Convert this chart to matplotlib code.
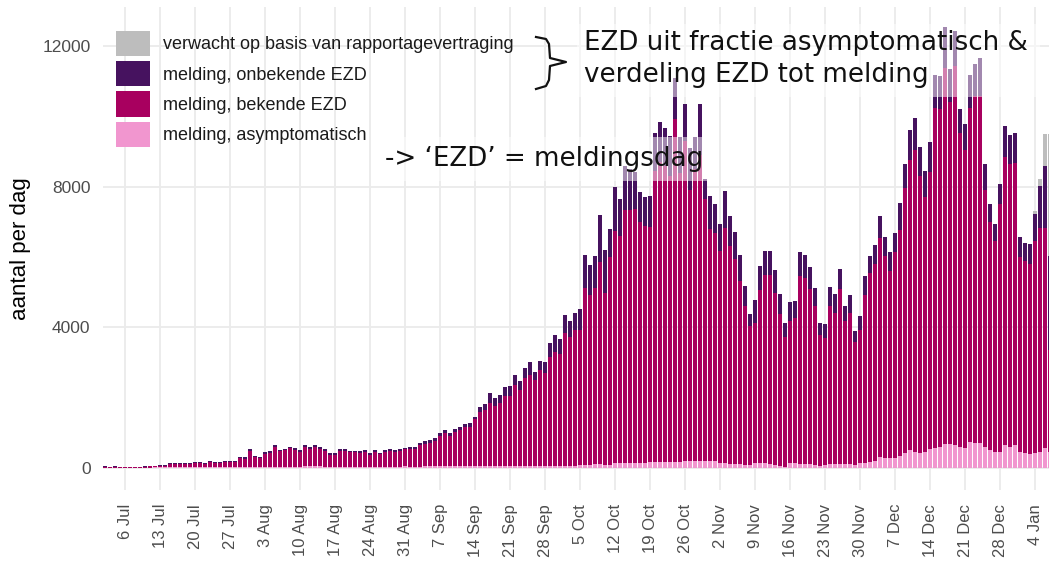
import numpy as np
import pandas as pd
import matplotlib
matplotlib.use("Agg")
import matplotlib.pyplot as plt
import matplotlib.dates as mdates
from matplotlib.patches import Patch, Rectangle
from matplotlib.lines import Line2D

# dagen 2 jul 2020 .. 7 jan 2021
dagen = pd.date_range("2020-07-02", "2021-01-07", freq="D")

# hoogte tot bovenkant "melding, onbekende EZD" (= totaal gemeld)
top_onbekend = [
    50, 40, 50, 20, 20, 20, 30, 30, 50, 60, 70, 80, 80, 140, 130, 150, 130, 150, 160, 160,
    130, 200, 180, 180, 190, 190, 210, 320, 300, 540,
    340, 310, 450, 470, 650, 520, 550, 610, 560, 510, 660, 590, 650, 590, 530, 420, 420, 540,
    540, 490, 490, 470, 500, 420, 500, 440, 500, 530, 510, 530, 580,
    590, 590, 700, 760, 790, 840, 1000, 1080, 1000, 1100, 1180, 1250, 1270, 1460, 1730, 1810,
    2120, 2000, 2080, 2300, 2320, 2650, 2460, 2830, 3010, 2720, 3050, 3020, 3550, 3790,
    3680, 4350, 4190, 4410, 4520, 6050, 5770, 6030, 7200, 6200, 6800, 7990, 7640, 8580, 8490,
    8420, 7850, 7710, 7730, 9530, 9840, 9680, 9430, 11100, 9400, 10350, 9110, 9400, 10360, 8210, 7730,
    7500, 6930, 7880, 7160, 6710, 6070, 5190, 4390, 4790, 5740, 6170, 6170, 5620, 4960, 4120,
    4710, 4740, 6150, 6070, 5720, 5120, 4120, 4090, 5140, 4950, 5660, 4620, 4930, 3910, 4310,
    5450, 6040, 6330, 7160, 6570, 6140, 6690, 7540, 8660, 9600, 9950, 9140, 8450, 9270, 11170,
    11150, 12530, 11340, 12430, 10220, 9780, 11170, 11490, 11650, 8650, 7500, 6940, 8090, 9730, 9460, 9540,
    6570, 6400, 6360, 7230, 8020, 8590, 6020,
]

# hoogte tot bovenkant "melding, bekende EZD"
top_bekend = [
    40, 30, 40, 15, 15, 15, 25, 25, 40, 50, 60, 65, 65, 120, 110, 125, 110, 125, 135, 135,
    110, 170, 155, 155, 160, 165, 180, 280, 265, 490,
    300, 275, 405, 425, 590, 475, 500, 560, 510, 465, 600, 540, 600, 540, 485, 380, 380, 490,
    495, 445, 450, 430, 455, 380, 455, 400, 455, 485, 465, 485, 530,
    535, 535, 640, 695, 720, 770, 920, 990, 920, 1010, 1090, 1160, 1180, 1380, 1580, 1650,
    1845, 1770, 1860, 2035, 2055, 2365, 2205, 2555, 2650, 2490, 2775, 2705, 3170, 3290,
    3230, 3840, 3720, 3930, 3930, 5130, 4920, 5120, 5870, 4990, 5990, 6735, 6590, 7340, 7350,
    7370, 6990, 6880, 6860, 8450, 8700, 8600, 8300, 9920, 8400, 9300, 7920, 8500, 8900, 7640, 6800,
    6690, 6170, 6830, 6310, 5930, 5330, 4600, 4030, 4120, 5070, 5500, 5500, 4980, 4390, 3720,
    4170, 4270, 5450, 5400, 5090, 4620, 3790, 3700, 4620, 4410, 5090, 4170, 4410, 3580, 3930,
    4930, 5550, 5810, 6550, 6040, 5600, 6140, 6780, 7970, 8760, 9040, 8300, 7710, 8420, 10250,
    10200, 11390, 10400, 11440, 9540, 9040, 10250, 10570, 10570, 7920, 6990, 6450, 7500, 8850, 8660, 8680,
    6000, 5880, 5800, 6450, 6830, 6830, 3360,
]

# hoogte "melding, asymptomatisch"
top_asym = [
    10, 10, 10, 5, 5, 5, 10, 10, 10, 10, 15, 15, 15, 20, 20, 20, 20, 20, 25, 25,
    20, 25, 25, 25, 25, 25, 30, 35, 35, 40,
    30, 30, 35, 35, 40, 40, 40, 40, 40, 40, 45, 45, 45, 45, 40, 40, 40, 40, 40, 40,
    40, 40, 40, 40, 40, 40, 40, 40, 40, 40, 45,
    40, 40, 40, 45, 45, 45, 50, 50, 50, 50, 50, 50, 50, 55, 55, 55, 55, 55, 55, 55,
    55, 60, 55, 60, 60, 55, 60, 50, 45, 50,
    45, 45, 45, 50, 90, 95, 95, 100, 100, 90, 95, 140, 140, 135, 145, 150, 145, 140,
    160, 165, 170, 170, 175, 180, 170, 190, 195, 190, 190, 185, 190,
    190, 150, 130, 120, 110, 100, 90, 80, 150, 140, 130, 110, 90, 60, 40, 130, 130, 120,
    110, 100, 90, 70, 90, 110, 120, 120, 110, 100, 80, 150,
    150, 180, 200, 300, 275, 275, 285, 340, 420, 510, 465, 420, 465, 530, 560, 610, 680,
    680, 655, 610, 560, 730, 700, 720, 610, 510, 465, 465, 655, 590, 655,
    465, 435, 400, 420, 465, 580, 465,
]

# verwacht op basis van rapportagevertraging (alleen laatste dagen)
verwacht_dagen = pd.to_datetime(["2021-01-04", "2021-01-05", "2021-01-06", "2021-01-07"])
top_verwacht = [7300, 8230, 9490, 9490]

labels = ["verwacht op basis van rapportagevertraging", "melding, onbekende EZD",
          "melding, bekende EZD", "melding, asymptomatisch"]
kleuren = ["#bdbdbd", "#46125f", "#a8005f", "#f196cf"]

W, H = 1049, 565
fig = plt.figure(figsize=(W / 100, H / 100), dpi=100)
ax = fig.add_axes([103 / W, 1 - 490 / H, 1 - 103 / W, (490 - 6.7) / H])

bw = 0.86
ax.bar(verwacht_dagen, top_verwacht, width=bw, color=kleuren[0], linewidth=0, zorder=2)
ax.bar(dagen, top_onbekend, width=bw, color=kleuren[1], linewidth=0, zorder=2)
ax.bar(dagen, top_bekend, width=bw, color=kleuren[2], linewidth=0, zorder=2)
ax.bar(dagen, top_asym, width=bw, color=kleuren[3], linewidth=0, zorder=2)

ax.set_xlim(mdates.date2num(pd.Timestamp("2020-07-02")) - 0.45,
            mdates.date2num(pd.Timestamp("2021-01-06")) + 0.8)
ax.set_ylim(-626, 13120)
ax.set_yticks([0, 4000, 8000, 12000])
ax.xaxis.set_major_locator(mdates.WeekdayLocator(byweekday=mdates.MO))
ax.xaxis.set_major_formatter(mdates.DateFormatter("%-d %b"))
ax.grid(True, color="#ebebeb", linewidth=1.3, zorder=0)
ax.set_axisbelow(True)
for s in ax.spines.values():
    s.set_visible(False)
ax.tick_params(axis="both", length=0, colors="#4d4d4d")
ax.tick_params(axis="y", labelsize=12.5, pad=9)
ax.tick_params(axis="x", labelsize=12, pad=10)
for t in ax.get_xticklabels():
    t.set_rotation(90)
    t.set_ha("center")
    t.set_va("top")
for t in ax.get_xticklabels() + ax.get_yticklabels():
    t.set_fontfamily("Liberation Sans")
ax.set_ylabel("aantal per dag", fontsize=16, family="Liberation Sans", labelpad=8)

fs = 13
fpx = fs * 100 / 72
handles = [Patch(facecolor=c, edgecolor="none") for c in kleuren]
leg = fig.legend(handles, labels, loc="upper left", bbox_to_anchor=(116 / W, 1 - 31 / H),
                 frameon=False, borderpad=0, borderaxespad=0,
                 handlelength=34 / fpx, handleheight=32 / fpx, labelspacing=5 / fpx,
                 handletextpad=13 / fpx, prop={"family": "Liberation Sans", "size": fs})
for t in leg.get_texts():
    t.set_color("#1a1a1a")

# halfdoorzichtige tekstvakken
for (x0, y0, x1, y1) in [(577, 24, 1040, 97), (378, 137, 710, 181)]:
    fig.add_artist(Rectangle((x0 / W, 1 - y1 / H), (x1 - x0) / W, (y1 - y0) / H,
                             transform=fig.transFigure, facecolor="white", alpha=0.5,
                             linewidth=0, zorder=5))

tfs = 18.8
fig.text(584 / W, 1 - 43 / H, "EZD uit fractie asymptomatisch &",
         fontsize=tfs, family="DejaVu Sans", va="center", ha="left", color="#111111", zorder=6)
fig.text(584 / W, 1 - 75 / H, "verdeling EZD tot melding",
         fontsize=tfs, family="DejaVu Sans", va="center", ha="left", color="#111111", zorder=6)
fig.text(385 / W, 1 - 159 / H, "-> \u2018EZD\u2019 = meldingsdag",
         fontsize=tfs, family="DejaVu Sans", va="center", ha="left", color="#111111", zorder=6)

# accolade
bx = [536, 546, 549, 550, 566, 550, 549, 546, 536]
by = [37, 39, 44, 58, 62, 66, 80, 86, 89]
fig.add_artist(Line2D([v / W for v in bx], [1 - v / H for v in by], transform=fig.transFigure,
                      color="#111111", linewidth=1.6, zorder=6))

fig.savefig("out.png", dpi=100)
